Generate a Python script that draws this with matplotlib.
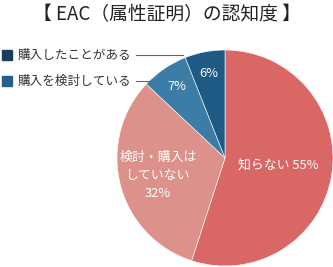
import numpy as np
import matplotlib
matplotlib.use('Agg')
import matplotlib.pyplot as plt

plt.rcParams['font.family'] = ['Noto Sans CJK JP', 'DejaVu Sans']

# data
title = '【 EAC（属性証明）の認知度 】'
labels = ['知らない 55%', '検討・購入は\nしていない\n32%', '7%', '6%']
values = [55, 32, 7, 6]
colors = ['#d96766', '#dc918a', '#3b7da6', '#1f5a85']
label_r = [0.5, 0.64, 0.8, 0.8]
legend_names = ['購入したことがある', '購入を検討している']
legend_colors = ['#163f60', '#245f8c']

W, H = 333, 267
fig = plt.figure(figsize=(W / 100, H / 100), dpi=100)

# pie axes, center (225,158) px, radius 108 px
cx, cy, r = 225, 158, 108
ax = fig.add_axes([(cx - r) / W, (H - cy - r) / H, 2 * r / W, 2 * r / H])
wedges, _ = ax.pie(values, colors=colors, startangle=90, counterclock=False,
                   radius=1, wedgeprops=dict(edgecolor='white', linewidth=0.4))
ax.set_xlim(-1, 1)
ax.set_ylim(-1, 1)
ax.set_aspect('equal')
ax.axis('off')

# slice labels
cum = np.cumsum([0] + values)
for i, lab in enumerate(labels):
    mid = 90 - (cum[i] + values[i] / 2) / 100 * 360
    a = np.deg2rad(mid)
    ax.text(label_r[i] * np.cos(a), label_r[i] * np.sin(a), lab, color='white',
            fontsize=9.3, ha='center', va='center', linespacing=1.5)

fig.text(0.5, 1 - 15 / H, title, ha='center', va='center', fontsize=13.5, color='#222222')

# legend with leader lines
rows_y = [55, 81]
line_end = [183, 152]
for name, col, y, xe in zip(legend_names, legend_colors, rows_y, line_end):
    fig.patches.append(plt.Rectangle((2 / W, 1 - (y + 5) / H), 10 / W, 10 / H,
                                     transform=fig.transFigure, color=col))
    fig.text(18 / W, 1 - y / H, name, ha='left', va='center', fontsize=9.1, color='#333333')
    fig.add_artist(plt.Line2D([136 / W, xe / W], [1 - y / H, 1 - y / H],
                              transform=fig.transFigure, color='#666666', lw=0.8))

fig.savefig('out.png', dpi=100)
